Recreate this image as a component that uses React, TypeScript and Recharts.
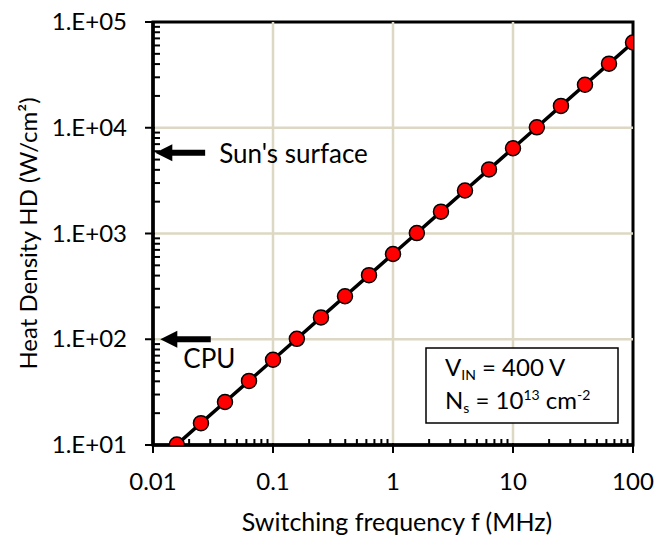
import React from 'react';
import { LineChart, Line, XAxis, YAxis, ReferenceLine, ReferenceArea } from 'recharts';

// ---- data ----
const freqMHz = [0.0158, 0.0251, 0.0398, 0.0631, 0.1, 0.158, 0.251, 0.398, 0.631, 1, 1.58, 2.51, 3.98, 6.31, 10, 15.8, 25.1, 39.8, 63.1, 100];
const heatDensity = [10.1, 16.1, 25.5, 40.4, 64, 101, 161, 255, 404, 640, 1010, 1610, 2550, 4040, 6400, 10100, 16100, 25500, 40400, 64000];

const xMajorTicks = [0.01, 0.1, 1, 10, 100];
const xMajorLabels = ['0.01', '0.1', '1', '10', '100'];
const xMinorTicks = [
  0.02, 0.03, 0.04, 0.05, 0.06, 0.07, 0.08, 0.09,
  0.2, 0.3, 0.4, 0.5, 0.6, 0.7, 0.8, 0.9,
  2, 3, 4, 5, 6, 7, 8, 9,
  20, 30, 40, 50, 60, 70, 80, 90,
];
const yMajorTicks = [10, 100, 1000, 10000, 100000];
const yMajorLabels = ['1.E+01', '1.E+02', '1.E+03', '1.E+04', '1.E+05'];
const yMinorTicks = [
  20, 30, 40, 50, 60, 70, 80, 90,
  200, 300, 400, 500, 600, 700, 800, 900,
  2000, 3000, 4000, 5000, 6000, 7000, 8000, 9000,
  20000, 30000, 40000, 50000, 60000, 70000, 80000, 90000,
];
const xGrid = [0.1, 1, 10];
const yGrid = [100, 1000, 10000];

// annotation arrows in data units
const sunArrow = { label: "Sun's surface", tipX: 0.01045, tailX: 0.0272, y: 5800 };
const cpuArrow = { label: 'CPU', tipX: 0.0115, tailX: 0.0303, y: 100 };

const data = freqMHz.map((f, i) => ({ f, hd: heatDensity[i] }));

const FONT = 'Lato, "Open Sans", sans-serif';
const GRID = '#dcd8c3';

const XTick = (props: any) => {
  const { x, y, payload } = props;
  const idx = xMajorTicks.indexOf(payload.value);
  if (idx >= 0) {
    return (
      <g>
        <line x1={x} x2={x} y1={y - 2} y2={y + 8} stroke="#000" strokeWidth={2} />
        <text x={x} y={y + 45} textAnchor="middle" fontFamily={FONT} fontSize={24} fill="#000">
          {xMajorLabels[idx]}
        </text>
      </g>
    );
  }
  return <line x1={x} x2={x} y1={y} y2={y - 6} stroke="#000" strokeWidth={2} />;
};

const YTick = (props: any) => {
  const { x, y, payload } = props;
  const idx = yMajorTicks.indexOf(payload.value);
  if (idx >= 0) {
    return (
      <g>
        <line x1={x - 8} x2={x + 2} y1={y} y2={y} stroke="#000" strokeWidth={2} />
        <text x={x - 26} y={y + 8} textAnchor="end" fontFamily={FONT} fontSize={24} fill="#000">
          {yMajorLabels[idx]}
        </text>
      </g>
    );
  }
  return <line x1={x} x2={x + 7} y1={y} y2={y} stroke="#000" strokeWidth={2} />;
};

const makeArrow = (text: string, dx: number, dy: number) => (props: any) => {
  const { x1, y1, x2 } = props;
  const tipX = Math.min(x1, x2);
  const tailX = Math.max(x1, x2);
  const head = 17;
  return (
    <g>
      <line x1={tipX + head - 1} x2={tailX} y1={y1} y2={y1} stroke="#000" strokeWidth={6} />
      <polygon points={`${tipX},${y1} ${tipX + head},${y1 - 8.5} ${tipX + head},${y1 + 8.5}`} fill="#000" />
      <text
        x={(dx >= 0 ? tailX : tipX) + Math.abs(dx)}
        y={y1 + dy}
        fontFamily={FONT}
        fontSize={26}
        fill="#000"
        dominantBaseline="central"
      >
        {text}
      </text>
    </g>
  );
};

const YTitle = (props: any) => {
  const { viewBox } = props;
  const cx = 27;
  const cy = viewBox.y + viewBox.height / 2;
  return (
    <text
      transform={`translate(${cx},${cy}) rotate(-90)`}
      textAnchor="middle"
      dominantBaseline="central"
      fontFamily={FONT}
      fontSize={24}
      fill="#000"
    >
      Heat Density HD (W/cm²)
    </text>
  );
};

const XTitle = (props: any) => {
  const { viewBox } = props;
  const cx = viewBox.x + viewBox.width / 2 + 4;
  return (
    <text x={cx} y={521} textAnchor="middle" dominantBaseline="central" fontFamily={FONT} fontSize={25} fill="#000">
      Switching frequency f (MHz)
    </text>
  );
};

export default function App() {
  return (
    <div style={{ position: 'absolute', left: 0, top: 0, width: 670, height: 536, background: '#fff' }}>
      <LineChart width={670} height={536} data={data} margin={{ top: 22, right: 37, left: 0, bottom: 0 }}>
        {xGrid.map((v) => (
          <ReferenceLine key={'gx' + v} x={v} stroke={GRID} strokeWidth={2.5} />
        ))}
        {yGrid.map((v) => (
          <ReferenceLine key={'gy' + v} y={v} stroke={GRID} strokeWidth={2.5} />
        ))}
        <ReferenceArea x1={0.01} x2={100} y1={10} y2={100000} fill="none" stroke="#000" strokeWidth={3} />
        <XAxis
          dataKey="f"
          type="number"
          scale="log"
          domain={[0.01, 100]}
          ticks={[...xMajorTicks, ...xMinorTicks]}
          interval={0}
          allowDataOverflow
          height={91}
          tickSize={0}
          tickMargin={0}
          tickLine={false}
          axisLine={{ stroke: '#000', strokeWidth: 3.5 }}
          tick={(p: any) => <XTick {...p} />}
          label={{ content: (p: any) => <XTitle {...p} /> }}
        />
        <YAxis
          type="number"
          scale="log"
          domain={[10, 100000]}
          ticks={[...yMajorTicks, ...yMinorTicks]}
          interval={0}
          allowDataOverflow
          width={153}
          tickSize={0}
          tickMargin={0}
          tickLine={false}
          axisLine={{ stroke: '#000', strokeWidth: 3.5 }}
          tick={(p: any) => <YTick {...p} />}
          label={{ content: (p: any) => <YTitle {...p} /> }}
        />
        <ReferenceLine
          segment={[{ x: sunArrow.tipX, y: sunArrow.y }, { x: sunArrow.tailX, y: sunArrow.y }]}
          stroke="#000"
          ifOverflow="visible"
          shape={makeArrow(sunArrow.label, 14, 0)}
        />
        <ReferenceLine
          segment={[{ x: cpuArrow.tipX, y: cpuArrow.y }, { x: cpuArrow.tailX, y: cpuArrow.y }]}
          stroke="#000"
          ifOverflow="visible"
          shape={makeArrow(cpuArrow.label, -23, 19)}
        />
        <Line
          dataKey="hd"
          stroke="#000"
          strokeWidth={3.5}
          isAnimationActive={false}
          dot={{ r: 7.5, fill: '#ff0000', stroke: '#000', strokeWidth: 1.5 }}
          activeDot={false}
        />
      </LineChart>
      <svg
        width={670}
        height={536}
        style={{ position: 'absolute', left: 0, top: 0, pointerEvents: 'none' }}
      >
        <rect x={426} y={348} width={192} height={75} fill="#fff" stroke="#000" strokeWidth={1.5} />
        <text x={445} y={376} fontFamily={FONT} fontSize={24} fill="#000">
          <tspan>V</tspan>
          <tspan fontSize={14} dy={4}>IN</tspan>
          <tspan dy={-4}> = 400 V</tspan>
        </text>
        <text x={445} y={409} fontFamily={FONT} fontSize={24} fill="#000">
          <tspan>N</tspan>
          <tspan fontSize={14} dy={4}>s</tspan>
          <tspan dy={-4}> = 10</tspan>
          <tspan fontSize={14} dy={-9}>13</tspan>
          <tspan dy={9}> cm</tspan>
          <tspan fontSize={14} dy={-9}>-2</tspan>
        </text>
      </svg>
    </div>
  );
}
